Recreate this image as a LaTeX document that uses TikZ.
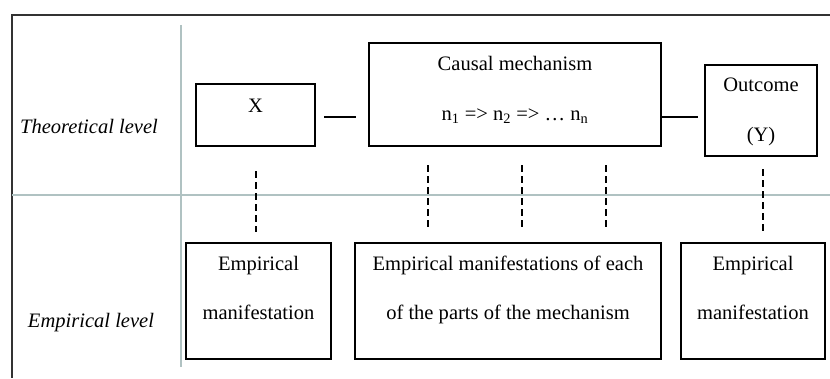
\documentclass[tikz,border=0pt]{standalone}
\usepackage{fontspec}
\setmainfont{Liberation Serif}
\usepackage{tikz}
\usetikzlibrary{positioning}
\usepackage{xcolor}
\definecolor{rulegray}{RGB}{176,194,194}
\definecolor{framegray}{RGB}{50,50,50}
\tikzset{
  box/.style={draw=black, line width=1.6pt, align=center, inner sep=0pt, font=\fontsize{15.4}{18.5}\selectfont},
  levellabel/.style={inner sep=0pt, font=\fontsize{15.4}{18.5}\selectfont\itshape},
  frame/.style={draw=framegray, line width=1.8pt},
  divider/.style={draw=rulegray, line width=1.6pt},
  link/.style={line width=1.6pt},
  dashlink/.style={line width=1.6pt, dash pattern=on 5.25pt off 3pt}
}
\begin{document}
\begin{tikzpicture}[x=0.75pt, y=-0.75pt]
\useasboundingbox (0,0) rectangle (830,378);
\draw[frame] (830,15) -- (12,15) -- (12,378);
\draw[divider] (181,25) -- (181,367);
\draw[divider] (12,195) -- (830,195);
\node[levellabel, anchor=base] (theo) at (89,133) {Theoretical level};
\node[levellabel, anchor=base] (emp) at (91,327) {Empirical level};
\node[box, minimum width=89.25pt, minimum height=46.5pt, text height=10pt, text depth=14.5pt] (xbox) at (255.5,115) {X};
\node[box, minimum width=219pt, minimum height=77.25pt, text depth=9.5pt] (mech) at (515,94.5) {Causal mechanism\\[19pt]n\textsubscript{1} => n\textsubscript{2} => … n\textsubscript{n}};
\node[box, minimum width=84pt, minimum height=68.25pt, text depth=0.5pt] (outc) at (761,110.5) {Outcome\\[19pt](Y)};
\node[box, minimum width=108.75pt, minimum height=87pt, text depth=20pt] (emx) at (258.5,301) {Empirical\\[18.25pt]manifestation};
\node[box, minimum width=229.5pt, minimum height=87pt, text depth=20pt] (emmech) at (508,301) {Empirical manifestations of each\\[18.25pt]of the parts of the mechanism};
\node[box, minimum width=108pt, minimum height=87pt, text depth=20pt] (emy) at (753,301) {Empirical\\[18.25pt]manifestation};
\coordinate (lev) at (0,117);
\draw[link, shorten <=6pt, shorten >=9pt] (xbox.east |- lev) -- (mech.west |- lev);
\draw[link, shorten >=4.5pt] (mech.east |- lev) -- (outc.west |- lev);
\draw[dashlink, shorten <=18pt, shorten >=7.5pt] (256,0 |- xbox.south) -- (256,0 |- emx.north);
\foreach \px in {428,522,606}
  \draw[dashlink, shorten <=13.5pt, shorten >=9.75pt] (\px,0 |- mech.south) -- (\px,0 |- emmech.north);
\draw[dashlink, shorten <=9pt, shorten >=7.5pt] (763,0 |- outc.south) -- (763,0 |- emy.north);
\end{tikzpicture}
\end{document}
